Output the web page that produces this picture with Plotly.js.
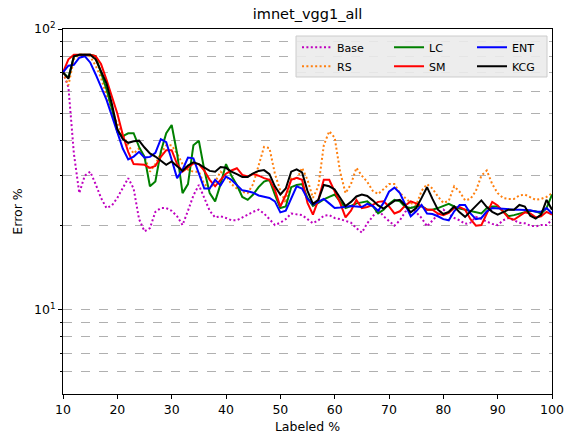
<!DOCTYPE html>
<html>
<head>
<meta charset="utf-8">
<script src="https://cdn.plot.ly/plotly-3.0.1.min.js"></script>
<style>html,body{margin:0;padding:0;background:#fff;}#chart{width:569px;height:444px;}</style>
</head>
<body>
<div id="chart"></div>
<script>
const labeled = [10,11,12,13,14,15,16,17,18,19,20,21,22,23,24,25,26,27,28,29,30,31,32,33,34,35,36,37,38,39,40,41,42,43,44,45,46,47,48,49,50,51,52,53,54,55,56,57,58,59,60,61,62,63,64,65,66,67,68,69,70,71,72,73,74,75,76,77,78,79,80,81,82,83,84,85,86,87,88,89,90,91,92,93,94,95,96,97,98,99,100];

const base = [70,62,36,26,30,31,28,25,23,23.5, 25,27,29.4,27,21,19,19.5,22.3,23,23, 22.5,21.5,20,22.5,25.5,27.8,24.8,22.5,21.3,21.5, 21.2,20.8,20.8,21.3,21.7,22.3,22.7,22,21,20, 20.4,21,22,21.8,21.7,21,20.3,20.8,21.6,21.7, 21.2,21,20.7,20.4,19.5,18.8,20.3,21.5,22.7,21.5, 20.6,19.9,20.8,22.3,23.3,22.3,21.2,19.8,20.8,21.8, 22.7,22,21.2,20.8,20.2,20.4,21.4,21,20.6,20.2, 20,20.8,21.2,20.8,20.4,20.3,19.9,19.8,20,20, 20.9];

const rs = [70,63,78,81,81,80,74,67,58,51, 46,42,38.5,36,37.5,35,31,33,36,38.5, 38.5,36,33,31.5,31,31,28,27,28.5,31, 30,28,27,26.3,26,28,33,38,37.6,30.5, 26.5,24,29.5,29,32,29,25,27.5,38.5,43.2, 41,31,26,28,32,30,28.5,26.5,25.8,26.8, 28,28,26,25,24,23.5,26.5,28,27,25.3, 24,24.4,27.5,26.3,24.5,24.8,26.5,30,31.3,28, 26,25,24.8,24.8,25.5,25.7,25.2,24.6,24.8,25.2, 26];

const lc = [70,67,80,81,81,81,80,70,61,52, 43,41.5,42.5,42.5,38,35,27.5,28.6,36.5,42.5, 45.5,36,26,28,38.5,40,31.5,26,24.3,28, 33,30,27.8,25.2,24.6,25.7,27.3,28.6,29,25.7, 23,23.3,27.3,27.8,28,25,23.4,24,24.7,25.2, 25.7,24.3,23,23.4,23.9,24.1,24.3,23.4,22,22.7, 23.8,24.6,24.3,23.2,23,23.3,23.4,22.7,22.7,23, 23.4,23.8,23.3,22.9,22.7,22.5,22.2,22,23,23.3, 23.3,22.3,21.5,21.7,22,22.3,22.5,22.4,22,23, 25.7];

const sm = [70,78,81,81,81,81,80,75,66,57, 50,42,36.5,33,33,32.8,32,32.5,35,37, 37,33,31,32,33.2,33,31.3,29,27.5,29, 30.5,31.3,31.9,30.2,29.8,30.4,30,29.4,29,26.7, 23.3,25.6,29,29.5,29,24,21.8,24.6,29,29, 26.3,24,21.3,22.5,24.6,23,23.2,23.6,24.2,24.3, 23.3,22,22.4,23.5,24.3,23.9,23.3,22.7,22.7,22, 21.7,22.1,23,23.2,22.7,21,19.9,20,22,24.2, 23.5,22.3,21.2,20.9,21.5,22.2,22,21.3,21.5,22.3, 21.8];

const ent = [70,74,74.5,79,80,76,69,62,56,49, 43,37.5,34.3,35.1,36.5,34.8,35,36.2,40.5,39.5, 34.2,29.4,31.5,34.8,34.6,30.5,27,27,29,27.7, 29.8,29,27.8,26.6,26.4,26.1,25.5,25.2,25,24.3, 22.2,22.5,25,27.5,27,24.8,23.7,24.3,24.8,23.9, 23,23.1,23.3,23.4,23.3,23.2,23.8,23.4,22.5,24, 26.3,27.2,26,23.5,21.5,22.4,23.6,22,21.9,21.5, 21,20.8,22.4,23.6,23.6,22,21,21.2,22.4,23, 22.9,22.8,22.7,22.7,22.7,22.7,22.6,22.3,22.3,23, 22];

const kcg = [70,66.5,80,81,81,81,78,71,64,54, 44,40.5,39.3,39.8,40,37.8,36,35.1,34,32.8, 33.7,32.3,31.2,32.6,33.5,33,32,31.2,31,32.2, 32,31,30.4,29.7,29.7,30.6,31.2,31.4,30.4,27.5, 25.7,27,31,31.6,30.8,26.5,23.8,24.6,27.8,27.5, 26.8,24.9,23.4,24.2,25.3,25.7,25.4,24.5,23.5,22.9, 23.7,24.4,24.6,23.5,22.2,23,25,27.3,24.8,22.7, 21.9,22.3,23.3,22.2,21.4,22.4,23.6,24.5,23.2,22.3, 21.8,22.3,22.7,22.7,23.6,23.3,21.6,21.1,21.8,24.6, 22.7];

const xTicks = [10,20,30,40,50,60,70,80,90,100];
const yMajor = [10,100];
const yMajorText = ['10<sup>1</sup>','10<sup>2</sup>'];
const yMinor = [6,7,8,9,20,30,40,50,60,70,80,90];

const dotted = '2px,2.4px';
function tr(name, y, color, dash, leg) {
  return {x: labeled, y: y, name: name, type: 'scatter', mode: 'lines',
          line: {color: color, width: 2, dash: dash || 'solid'}, legend: leg};
}
const data = [
  tr('Base', base, '#bf00bf', dotted, 'legend'),
  tr('RS', rs, '#ff7f0e', dotted, 'legend'),
  tr('LC', lc, '#008000', null, 'legend2'),
  tr('SM', sm, '#ff0000', null, 'legend2'),
  tr('ENT', ent, '#0000ff', null, 'legend3'),
  tr('KCG', kcg, '#000000', null, 'legend3')
];

const font = {family: 'DejaVu Sans, sans-serif', color: '#000'};
function leg(x) {
  return {orientation: 'v', x: x, xanchor: 'left', y: 0.9895, yanchor: 'top',
          bgcolor: 'rgba(0,0,0,0)', borderwidth: 0, tracegroupgap: 0,
          font: Object.assign({size: 11}, font), traceorder: 'normal'};
}
const layout = {
  width: 569, height: 444,
  margin: {l: 63, r: 17, t: 29, b: 50, pad: 0},
  paper_bgcolor: '#fff', plot_bgcolor: '#fff',
  font: Object.assign({size: 12.5}, font),
  title: {text: 'imnet_vgg1_all', font: Object.assign({size: 14.5}, font),
          x: 0.5405, xanchor: 'center', y: 0.968, yanchor: 'middle', yref: 'container'},
  showlegend: true,
  legend: leg(0.4785),
  legend2: leg(0.6667),
  legend3: leg(0.8364),
  shapes: [{type: 'rect', xref: 'paper', yref: 'paper', layer: 'above',
            x0: 0.4765, x1: 0.9898, y0: 0.8685, y1: 0.9808,
            fillcolor: 'rgba(235,235,235,0.9)', line: {color: '#cccccc', width: 1}}],
  xaxis: {range: [10, 100], tickvals: xTicks, ticks: 'outside', ticklen: 4, tickwidth: 1,
          tickcolor: '#000', showline: true, linecolor: '#000', linewidth: 1, mirror: true,
          showgrid: false, zeroline: false,
          tickfont: Object.assign({size: 12.5}, font),
          title: {text: 'Labeled %', font: Object.assign({size: 12.5}, font), standoff: 6}},
  yaxis: {type: 'log', range: [Math.log10(5), 2], tickvals: yMajor, ticktext: yMajorText,
          ticks: 'outside', ticklen: 4, tickwidth: 1, tickcolor: '#000',
          showline: true, linecolor: '#000', linewidth: 1, mirror: true,
          showgrid: true, gridcolor: '#b0b0b0', griddash: 'dash', gridwidth: 1,
          zeroline: false,
          tickfont: Object.assign({size: 12.5}, font),
          minor: {tickvals: yMinor, ticks: 'outside', ticklen: 2.5, tickcolor: '#000',
                  showgrid: true, gridcolor: '#b0b0b0', griddash: 'dash', gridwidth: 1},
          title: {text: 'Error %', font: Object.assign({size: 12.5}, font), standoff: 8}}
};
Plotly.newPlot('chart', data, layout, {staticPlot: true, displayModeBar: false});
</script>
</body>
</html>
